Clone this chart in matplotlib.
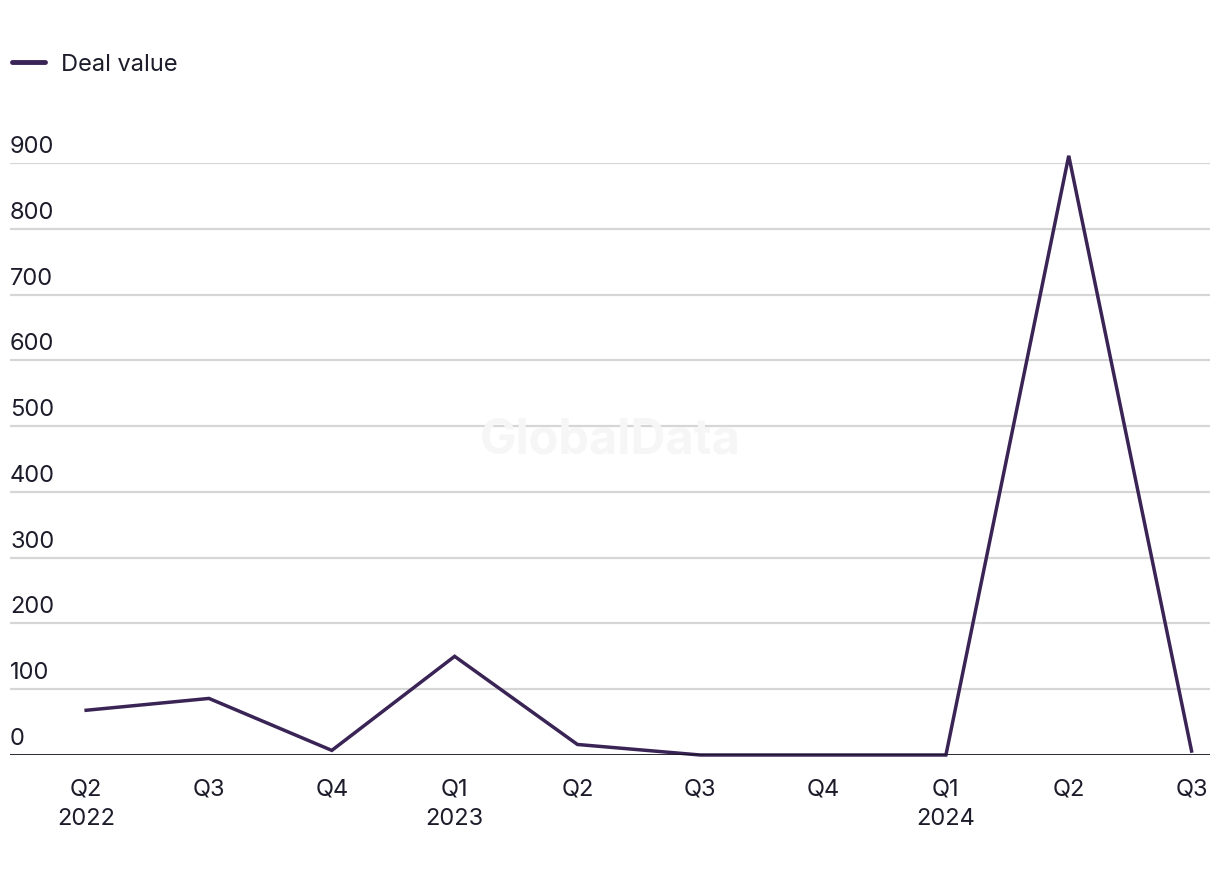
import matplotlib.pyplot as plt
from matplotlib import transforms

plt.rcParams['font.family'] = ['Inter', 'DejaVu Sans']

quarters = ["Q2\n2022", "Q3", "Q4", "Q1\n2023", "Q2", "Q3", "Q4", "Q1\n2024", "Q2", "Q3"]
deal_value = [68, 86, 7, 150, 16, 0, 0, 0, 911, 6]
y_ticks = [0, 100, 200, 300, 400, 500, 600, 700, 800, 900]

line_color = '#3a2456'
text_color = '#1c1c2b'

fig = plt.figure(figsize=(12.2, 8.78), dpi=100)
ax = fig.add_axes([10 / 1220, (878 - 756) / 878, 1200 / 1220, (756 - 164) / 878])

x = list(range(len(quarters)))
ax.plot(x, deal_value, color=line_color, lw=2.5, clip_on=False, zorder=3,
        solid_joinstyle='miter', label='Deal value')

ax.set_xlim(-0.62, 9.15)
ax.set_ylim(0, 900)

# gridlines and y labels sitting above them
for t in y_ticks:
    if t > 0:
        ax.axhline(t, color='#d6d6d6', lw=1.6, zorder=1)
    tr = transforms.offset_copy(ax.get_yaxis_transform(), fig=fig, x=0, y=6, units='dots')
    ax.text(0, t, str(t), transform=tr, ha='left', va='bottom', fontsize=17, color=text_color)

ax.axhline(0, color='#15131f', lw=2.0, zorder=4)

ax.set_yticks([])
ax.set_xticks(x)
ax.set_xticklabels(quarters, fontsize=17, color=text_color, linespacing=1.45)
ax.tick_params(axis='x', length=0, pad=16)
for s in ax.spines.values():
    s.set_visible(False)

# watermark
fig.text(610 / 1220, 1 - 440 / 878, 'GlobalData', ha='center', va='center',
         fontsize=35, fontweight='bold', color='#f6f6f6', zorder=0)

# legend
leg = fig.legend(loc='upper left', bbox_to_anchor=(0.002, 1 - 45 / 878), frameon=False,
                 fontsize=17, handlelength=1.4, handletextpad=0.7, borderaxespad=0)
for txt in leg.get_texts():
    txt.set_color(text_color)
for h in leg.get_lines():
    h.set_linewidth(3.5)
    h.set_solid_capstyle('round')

plt.savefig('out.png', dpi=100)
